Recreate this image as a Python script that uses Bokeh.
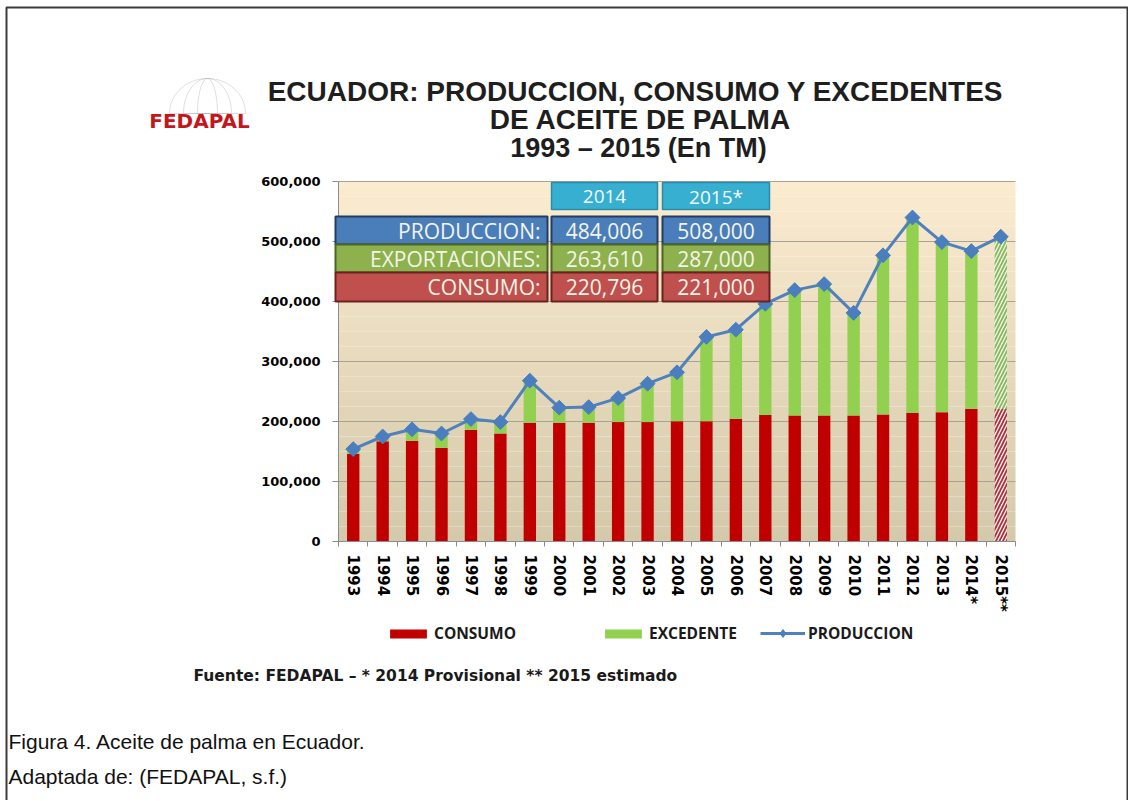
import numpy as np
from bokeh.plotting import figure
from bokeh.models import (ColumnDataSource, Range1d, NumeralTickFormatter, FixedTicker,
                          Label, BoxAnnotation, Legend, LegendItem, PolyAnnotation, Grid,
                          LinearAxis)
from bokeh.embed import file_html
from bokeh.resources import INLINE

# ---------------- data ----------------
years = ["1993", "1994", "1995", "1996", "1997", "1998", "1999", "2000", "2001", "2002",
         "2003", "2004", "2005", "2006", "2007", "2008", "2009", "2010", "2011", "2012",
         "2013", "2014*", "2015**"]
produccion = [154000, 175000, 187000, 180000, 204000, 199000, 268000, 223000, 224000, 239000,
              263000, 282000, 341000, 353000, 396000, 419000, 429000, 381000, 477000, 540000,
              499000, 484006, 508000]
consumo = [146000, 167000, 168000, 156000, 186000, 180000, 198000, 198000, 198000, 199000,
           199000, 200500, 200500, 204500, 211000, 210000, 210000, 210000, 211700, 214000,
           215600, 220796, 221000]
excedente = [8000, 8000, 19000, 24000, 18000, 19000, 70000, 25000, 26000, 40000,
             64000, 81500, 140500, 148500, 185000, 209000, 219000, 171000, 262000, 326000,
             283400, 263210, 287000]
y_ticks = [0, 100000, 200000, 300000, 400000, 500000, 600000]

tabla_anios = ["2014", "2015*"]
tabla_filas = ["PRODUCCION:", "EXPORTACIONES:", "CONSUMO:"]
tabla_2014 = ["484,006", "263,610", "220,796"]
tabla_2015 = ["508,000", "287,000", "221,000"]

titulo = ["ECUADOR:  PRODUCCION, CONSUMO Y EXCEDENTES", "DE ACEITE DE PALMA", "1993 \u2013 2015 (En TM)"]
leyenda = ["CONSUMO", "EXCEDENTE", "PRODUCCION"]
fuente = "Fuente: FEDAPAL \u2013 * 2014 Provisional ** 2015 estimado"
caption = ["Figura 4. Aceite de palma en Ecuador.", "Adaptada de: (FEDAPAL, s.f.)"]

# ---------------- layout (page pixels; canvas starts at page 0,0) ----------------
W, H = 1128, 800
FL, FT, FR, FB = 338, 181, 1015, 541     # plot area
YMAX = 600000
n = len(years)
cw = (FR - FL) / n                        # px per category
ppu = (FB - FT) / YMAX                    # px per unit
x0 = -0.5 - FL / cw
y0 = -(H - FB) / ppu

RED, GREEN, BLUE, MARK = "#c00000", "#92d050", "#4f81bd", "#4a7ebf"

p = figure(width=W, height=H, x_range=Range1d(x0, x0 + W / cw), y_range=Range1d(y0, y0 + H / ppu),
           x_axis_type=None, y_axis_type=None, output_backend="svg", toolbar_location=None,
           min_border=0, min_border_left=0, min_border_right=0, min_border_top=0,
           min_border_bottom=0)
p.outline_line_color = None
p.background_fill_color = "white"
p.border_fill_color = "white"


def sx(px):
    return px


def sy(py):
    return H - py


xi = list(range(n))
lo, hi = -0.5, n - 0.5

# background gradient of plot area (cream -> tan)
edges = np.linspace(0, YMAX, 49)
c_top = np.array([252, 236, 208])
c_bot = np.array([212, 201, 170])
tt = (edges[:-1] + edges[1:]) / 2 / YMAX
cols = ["#%02x%02x%02x" % tuple((c_bot + (c_top - c_bot) * t).astype(int)) for t in tt]
bg = ColumnDataSource(dict(b=edges[:-1], t=edges[1:], c=cols))
p.quad(left=lo, right=hi, bottom="b", top="t", fill_color="c", line_color=None,
       source=bg, level="image")

# axes
yax = LinearAxis(fixed_location=lo, bounds=(0, YMAX), ticker=FixedTicker(ticks=y_ticks),
                 formatter=NumeralTickFormatter(format="0,0"))
xax = LinearAxis(fixed_location=0, bounds=(lo, hi),
                 ticker=FixedTicker(ticks=xi, minor_ticks=[i - 0.5 for i in range(n + 1)]),
                 major_label_overrides={i: y for i, y in enumerate(years)})
for ax in (xax, yax):
    ax.major_label_text_font = "DejaVu Sans"
    ax.major_label_text_font_style = "bold"
    ax.major_label_text_color = "black"
    ax.axis_line_color = "#8c8c8c"
yax.major_label_text_font_size = "13px"
yax.major_tick_line_color = "#8c8c8c"
yax.major_tick_out = 6
yax.major_tick_in = 0
yax.minor_tick_line_color = None
yax.major_label_standoff = 12
xax.major_label_text_font_size = "15px"
xax.major_tick_line_color = None
xax.major_tick_out = 0
xax.major_tick_in = 0
xax.minor_tick_line_color = "#8c8c8c"
xax.minor_tick_out = 5
xax.minor_tick_in = 0
xax.major_label_standoff = 8
xax.major_label_orientation = "vertical"
p.add_layout(yax, "left")
p.add_layout(xax, "below")

grid = Grid(dimension=1, ticker=FixedTicker(ticks=y_ticks), grid_line_color="#a8a294")
if "cross_bounds" in Grid.properties():
    grid.cross_bounds = (lo, hi)
    grid.bounds = (0, YMAX)
p.add_layout(grid)

# bars
src = ColumnDataSource(dict(x=xi[:-1], consumo=consumo[:-1], excedente=excedente[:-1]))
bars = p.vbar_stack(["consumo", "excedente"], x="x", width=0.42, source=src,
                    fill_color=[RED, GREEN], line_color=None)
src15 = ColumnDataSource(dict(x=xi[-1:], consumo=consumo[-1:], excedente=excedente[-1:]))
p.vbar_stack(["consumo", "excedente"], x="x", width=0.42, source=src15,
             fill_color=["#fbf1ee", "#f3f7e6"], line_color=None,
             hatch_pattern="/", hatch_color=["#a8323e", "#86b85e"], hatch_weight=1.8,
             hatch_scale=7)

# production line
srcp = ColumnDataSource(dict(x=xi, produccion=produccion))
ln = p.line(x="x", y="produccion", source=srcp, line_color=BLUE, line_width=3)
mk = p.scatter(x="x", y="produccion", source=srcp, marker="square", angle=np.pi / 4, size=10.5,
               fill_color=MARK, line_color=MARK)
# legend swatch for the diamond marker (a single not-a-number point, never drawn in the plot)
leg_src = ColumnDataSource(dict(x=[float("nan")], y=[float("nan")]))
mk_leg = p.scatter(x="x", y="y", source=leg_src, marker="diamond", size=12,
                   fill_color=MARK, line_color=MARK)


def lab(text, x, y, size, font="Open Sans", style="normal", color="#f4f4e8",
        align="center"):
    p.add_layout(Label(x=sx(x), y=sy(y), x_units="screen", y_units="screen", text=text,
                       text_font=font, text_font_style=style, text_font_size=size,
                       text_color=color, text_align=align, text_baseline="middle"))


def box(l, r, t, b, fill, line, lw=2, falpha=1.0):
    p.add_layout(BoxAnnotation(left=sx(l), right=sx(r), top=sy(t), bottom=sy(b),
                               left_units="screen", right_units="screen",
                               top_units="screen", bottom_units="screen",
                               fill_color=fill, fill_alpha=falpha,
                               line_color=line, line_width=lw, line_alpha=1.0))


# document frame
box(6, 1127, 7, H + 20, None, "#3a3a3a", 2, 0.0)

# logo (simplified) + title
for rx in (38, 24, 10):
    a = np.linspace(np.pi, 2 * np.pi, 40)
    p.add_layout(PolyAnnotation(xs=list(sx(207 + rx * np.cos(a))), ys=list(sy(113 + 35 * np.sin(a))),
                                xs_units="screen", ys_units="screen",
                                fill_alpha=0, line_color="#8a97a0", line_width=1))
lab("FEDAPAL", 199, 120, "20px", font="DejaVu Sans", style="bold", color="#c4161c")
lab(titulo[0], 639, 91, "28px", font="Liberation Sans", style="bold", color="#1e1e1e")
lab(titulo[1], 640, 119, "28px", font="Liberation Sans", style="bold", color="#1e1e1e")
lab(titulo[2], 638, 147, "27px", font="Liberation Sans", style="bold", color="#1e1e1e")

# table
row_fill = ["#4a7ebb", "#8db14c", "#c0504d"]
row_line = ["#233c63", "#4d6427", "#6a2220"]
row_y = [(216, 244), (244, 272), (272, 301)]
cols_x = [(335, 547), (551, 657), (662, 769)]
for (l, r), txt in zip(cols_x[1:], tabla_anios):
    box(l, r, 182, 209, "#36afd1", "#2a8cab", 1.5)
    lab(txt, (l + r) / 2, 196, "19px", color="#f4fbfd")
for i, (t, b) in enumerate(row_y):
    for (l, r) in cols_x:
        box(l, r, t, b, row_fill[i], row_line[i])
    lab(tabla_filas[i], 540, (t + b) / 2, "21px", align="right")
    lab(tabla_2014[i], (cols_x[1][0] + cols_x[1][1]) / 2, (t + b) / 2, "21px")
    lab(tabla_2015[i], (cols_x[2][0] + cols_x[2][1]) / 2, (t + b) / 2, "21px")


# legends
def mk_legend(text, renderers, x_px, gw, gh):
    lg = Legend(items=[LegendItem(label=text, renderers=renderers)],
                location=(sx(x_px), sy(634 + 10)), orientation="horizontal",
                background_fill_alpha=0, border_line_color=None, padding=0, margin=0,
                spacing=0, glyph_width=gw, glyph_height=gh, label_standoff=3,
                label_height=20, label_text_font="Open Sans", label_text_font_style="bold",
                label_text_font_size="15.5px", label_text_color="#1a1a1a",
                label_text_baseline="middle")
    p.add_layout(lg)


mk_legend(leyenda[0], [bars[0]], 385, 46, 11)
mk_legend(leyenda[1], [bars[1]], 600, 46, 11)
mk_legend(leyenda[2], [ln, mk_leg], 760, 45, 20)

# source + caption
lab(fuente, 193, 675, "15.5px", font="DejaVu Sans", style="bold", color="#1a1a1a", align="left")
lab(caption[0], 8, 741, "21px", font="Liberation Sans", color="#111111", align="left")
lab(caption[1], 8, 776, "21px", font="Liberation Sans", color="#111111", align="left")

open("out.html", "w").write(file_html(p, INLINE))
